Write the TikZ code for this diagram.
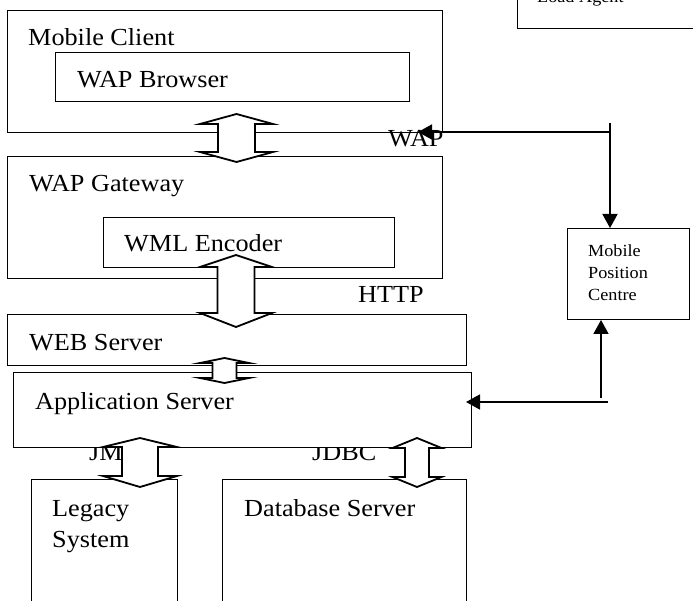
\documentclass[tikz,border=0pt]{standalone}
\usepackage{fontspec}
\setmainfont[FakeStretch=1.07]{Liberation Serif}
\usetikzlibrary{arrows.meta}

% hollow double-headed block arrow:
% #1 centre x, #2 shaft half width, #3 head half width,
% #4 upper tip y, #5 upper head base y, #6 lower head base y, #7 lower tip y
\newcommand\blockarrow[7]{%
  \draw[blockarr] (#1,#4) -- (#1+#3,#5) -- (#1+#2,#5) -- (#1+#2,#6) -- (#1+#3,#6)
    -- (#1,#7) -- (#1-#3,#6) -- (#1-#2,#6) -- (#1-#2,#5) -- (#1-#3,#5) -- cycle;}

\begin{document}
\begin{tikzpicture}[x=1pt,y=-1pt,
  box/.style={draw=black,line width=1pt,inner sep=0pt,anchor=north west,fill=white},
  lbl/.style={inner sep=0pt,anchor=base west,font=\fontsize{24.5}{29}\selectfont},
  small/.style={inner sep=0pt,anchor=base west,align=left,
    font=\fontsize{17}{22}\selectfont},
  blockarr/.style={draw=black,fill=white,line width=1.8pt,line join=miter},
  conn/.style={draw=black,line width=1.8pt,-{Triangle[length=14pt,width=15pt]}}]

\useasboundingbox (0,0) rectangle (693,601);
\clip (0,0) rectangle (693,601);

% tiers of the architecture
\node[box,minimum width=435pt,minimum height=122pt] (client) at (7,10) {};
\node[box,minimum width=354pt,minimum height=49pt] (browser) at (55,52) {};
\node[box,minimum width=435pt,minimum height=122pt] (gateway) at (7,156) {};
\node[box,minimum width=291pt,minimum height=50pt] (encoder) at (103,217) {};
\node[box,minimum width=459pt,minimum height=51pt] (web) at (7,314) {};

\node[lbl] (jmsl) at (89,460) {JM};
\node[lbl] (jdbcl) at (312,460) {JDBC};

\node[box,minimum width=458pt,minimum height=75pt] (app) at (13,372) {};
\node[box,minimum width=146pt,minimum height=150pt] (legacy) at (31,479) {};
\node[box,minimum width=244pt,minimum height=150pt] (db) at (222,479) {};
\node[box,minimum width=122pt,minimum height=91pt] (mpc) at (567,228) {};
\node[box,minimum width=200pt,minimum height=58pt] (agent) at (517,-30) {};

% labels
\node[lbl] (clientl) at (28,46) {Mobile Client};
\node[lbl] (browserl) at (77,88) {WAP Browser};
\node[lbl] (gatewayl) at (29,192) {WAP Gateway};
\node[lbl] (encoderl) at (124,252) {WML Encoder};
\node[lbl] (httpl) at (358,303) {HTTP};
\node[lbl] (webl) at (29,350) {WEB Server};
\node[lbl] (appl) at (35,409) {Application Server};
\node[lbl] (wapl) at (388,147) {WAP};
\node[lbl] (legacyl) at (52,516) {Legacy};
\node[lbl] (legacyl2) at (52,547) {System};
\node[lbl] (dbl) at (244,516) {Database Server};
\node[small] (mpcl1) at (588,257) {Mobile};
\node[small] (mpcl2) at (588,279) {Position};
\node[small] (mpcl3) at (588,301) {Centre};
\node[small] (agentl) at (537,3) {Load Agent};

% block arrows between tiers
\blockarrow{236.5}{18.5}{36.5}{114}{124}{152}{162}
\blockarrow{236}{18.5}{36}{255}{267}{313}{327}
\blockarrow{224.5}{12}{24.5}{358}{363}{378}{383}
\blockarrow{140}{18}{37}{438}{447}{476}{487}
\blockarrow{417}{12}{24.5}{438}{448}{477}{487}

% links to the mobile position centre
\coordinate (wapjoin) at (610,123);
\coordinate (wapbend) at (610,132);
\coordinate (waptip) at (418,132);
\draw[conn] (wapjoin) -- (wapjoin |- mpc.north);
\draw[conn] (wapbend) -- (waptip);

\coordinate (appjoin) at (601,398);
\coordinate (appbend) at (608,402);
\coordinate (apptip) at (466,402);
\draw[conn] (appjoin) -- (appjoin |- mpc.south);
\draw[conn] (appbend) -- (apptip);
\end{tikzpicture}
\end{document}
